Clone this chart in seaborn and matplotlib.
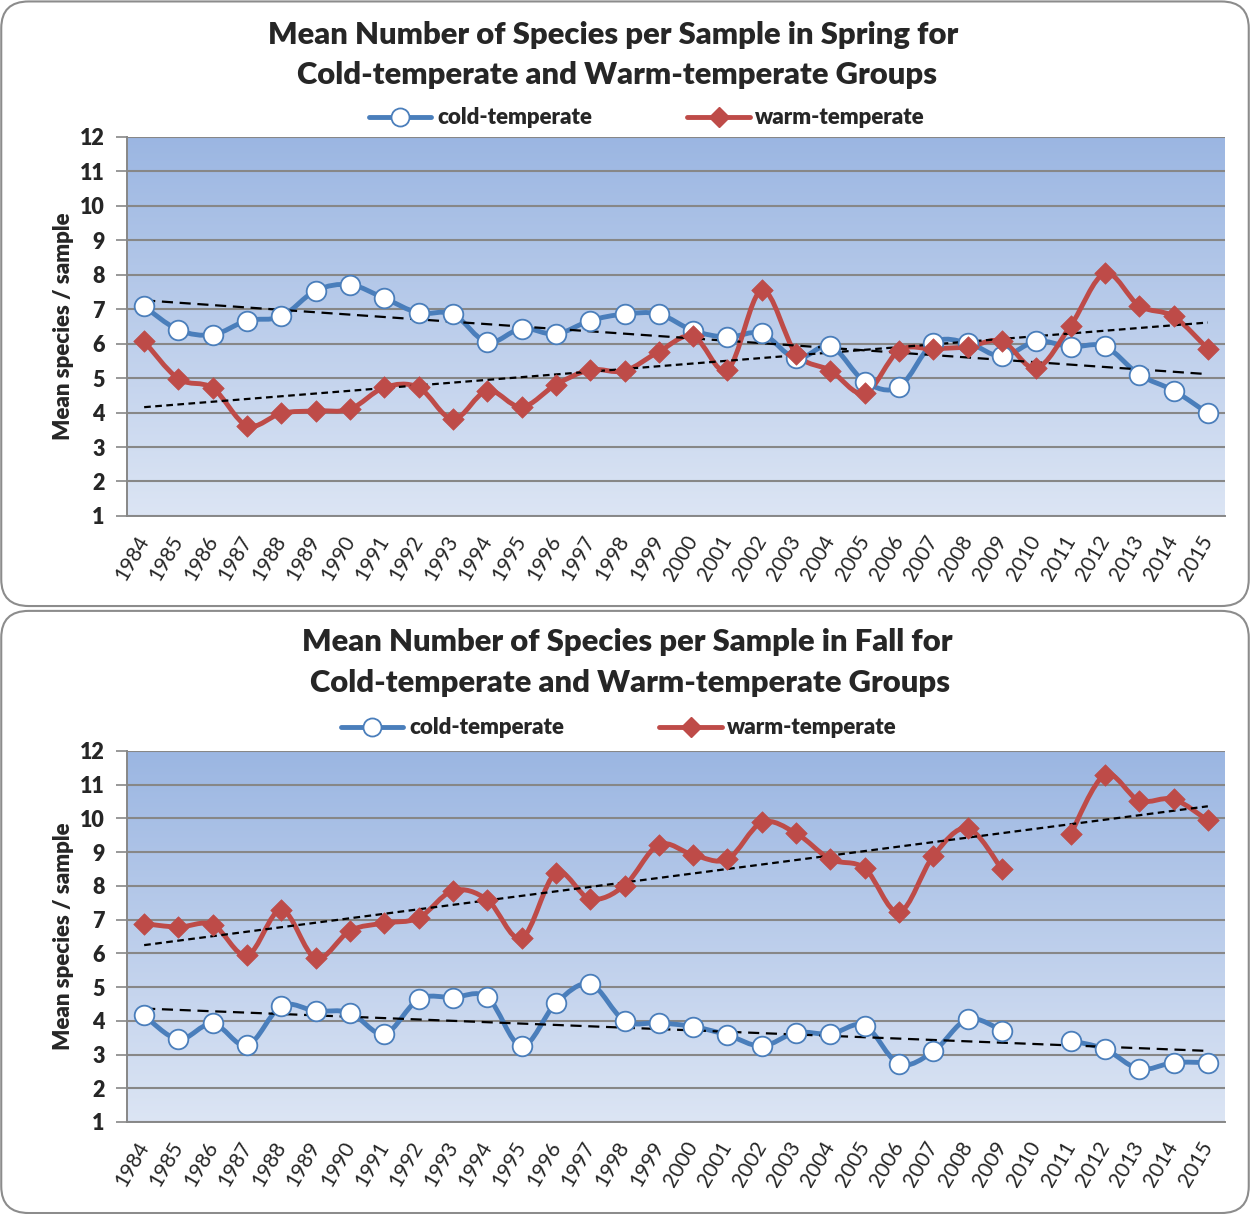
import numpy as np
import pandas as pd
import matplotlib
matplotlib.use("Agg")
import matplotlib.pyplot as plt
import seaborn as sns
from matplotlib.path import Path
from matplotlib.patches import PathPatch, FancyBboxPatch
from matplotlib.lines import Line2D
from matplotlib.colors import LinearSegmentedColormap

# ==============================
# DATA
# ==============================
years = list(range(1984, 2016))
year_labels = [str(y) for y in years]

spring_cold = [7.08, 6.40, 6.26, 6.67, 6.79, 7.54, 7.71, 7.32, 6.89, 6.86,
               6.04, 6.44, 6.28, 6.67, 6.86, 6.86, 6.38, 6.19, 6.30, 5.57,
               5.93, 4.90, 4.74, 6.02, 6.02, 5.63, 6.07, 5.91, 5.92, 5.10,
               4.64, 3.98]
spring_warm = [6.07, 4.98, 4.71, 3.62, 3.98, 4.05, 4.10, 4.73, 4.73, 3.81,
               4.64, 4.16, 4.81, 5.24, 5.21, 5.77, 6.22, 5.24, 7.55, 5.71,
               5.22, 4.56, 5.80, 5.85, 5.91, 6.07, 5.29, 6.52, 8.04, 7.10,
               6.79, 5.85]
fall_cold = [4.16, 3.45, 3.92, 3.27, 4.44, 4.29, 4.24, 3.61, 4.64, 4.69,
             4.70, 3.25, 4.52, 5.09, 4.00, 3.94, 3.83, 3.58, 3.25, 3.65,
             3.61, 3.86, 2.72, 3.09, 4.05, 3.71, np.nan, 3.41, 3.16, 2.57,
             2.76, 2.76]
fall_warm = [6.88, 6.78, 6.85, 5.94, 7.29, 5.86, 6.67, 6.90, 7.05, 7.86,
             7.59, 6.45, 8.38, 7.61, 8.01, 9.22, 8.92, 8.79, 9.88, 9.56,
             8.79, 8.52, 7.22, 8.89, 9.71, 8.49, np.nan, 9.53, 11.29, 10.53,
             10.57, 9.94]

series_names = ["cold-temperate", "warm-temperate"]
y_ticks = list(range(1, 13))

BLUE = "#4a7ebb"
RED = "#be4b48"
GRID = "#878787"
FONT = ["Lato", "DejaVu Sans"]

sns.set_theme(style="white")
plt.rcParams["font.family"] = FONT


def smooth_path(x, y):
    # Excel-like smoothed line: cubic Bezier through the points, broken at gaps
    x = np.asarray(x, float)
    y = np.asarray(y, float)
    ok = ~np.isnan(y)
    runs, start = [], None
    for i, flag in enumerate(ok):
        if flag and start is None:
            start = i
        if not flag and start is not None:
            runs.append((start, i))
            start = None
    if start is not None:
        runs.append((start, len(y)))
    verts, codes = [], []
    for a, b in runs:
        px, py = x[a:b], y[a:b]
        n = len(px)
        verts.append((px[0], py[0]))
        codes.append(Path.MOVETO)
        for i in range(n - 1):
            i0 = max(i - 1, 0)
            i3 = min(i + 2, n - 1)
            c1 = (px[i] + (px[i + 1] - px[i0]) / 6, py[i] + (py[i + 1] - py[i0]) / 6)
            c2 = (px[i + 1] - (px[i3] - px[i]) / 6, py[i + 1] - (py[i3] - py[i]) / 6)
            verts += [c1, c2, (px[i + 1], py[i + 1])]
            codes += [Path.CURVE4] * 3
    return Path(verts, codes)


grad_cmap = LinearSegmentedColormap.from_list("bg", ["#dce5f4", "#9bb6e2"])


def draw_panel(ax, cold, warm):
    df = pd.DataFrame({"year": years, "cold": cold, "warm": warm})

    # gradient plot area
    ax.imshow(np.linspace(0, 1, 256).reshape(-1, 1), cmap=grad_cmap, origin="lower",
              extent=[0, 1, 0, 1], transform=ax.transAxes, aspect="auto", zorder=-2)

    for col, color in [("cold", BLUE), ("warm", RED)]:
        ax.add_patch(PathPatch(smooth_path(df["year"], df[col]), fill=False,
                               edgecolor=color, lw=3.5, zorder=3,
                               capstyle="round", joinstyle="round"))

    # linear trend lines
    sns.regplot(data=df, x="year", y="cold", ax=ax, scatter=False, ci=None,
                line_kws={"color": "black", "lw": 1.6, "ls": (0, (5, 3)), "zorder": 4})
    sns.regplot(data=df, x="year", y="warm", ax=ax, scatter=False, ci=None,
                line_kws={"color": "black", "lw": 1.6, "ls": (0, (3, 2)), "zorder": 4})

    sns.scatterplot(data=df, x="year", y="cold", ax=ax, marker="o", s=200,
                    color="white", edgecolor=BLUE, linewidth=1.3, zorder=5)
    sns.scatterplot(data=df, x="year", y="warm", ax=ax, marker="D", s=120,
                    color=RED, edgecolor=RED, linewidth=0.5, zorder=5)

    ax.set_xlim(years[0] - 0.5, years[-1] + 0.5)
    ax.set_ylim(y_ticks[0], y_ticks[-1])
    ax.set_yticks(y_ticks)
    ax.set_yticklabels([str(t) for t in y_ticks], fontweight="heavy", fontsize=15.5)
    ax.set_xticks(years)
    ax.set_xticklabels(year_labels, rotation=60, ha="right", va="center",
                       rotation_mode="anchor", fontsize=15)
    ax.set_xticks([y - 0.5 for y in years] + [years[-1] + 0.5], minor=True)
    ax.tick_params(axis="x", which="major", length=0, pad=15)
    ax.tick_params(axis="x", which="minor", length=7, width=1.2, color=GRID, direction="out")
    ax.tick_params(axis="y", length=8, width=1.2, color=GRID, direction="out", left=True, pad=8)
    ax.grid(axis="y", color=GRID, lw=1.5)
    ax.grid(axis="x", visible=False)
    ax.set_axisbelow(True)
    for side in ["top", "right"]:
        ax.spines[side].set_visible(False)
    for side in ["left", "bottom"]:
        ax.spines[side].set_color(GRID)
        ax.spines[side].set_linewidth(1.4)
    ax.set_xlabel("")
    ax.set_ylabel("Mean species / sample", fontsize=16, fontweight="heavy", labelpad=4)


fig = plt.figure(figsize=(12.5, 12.14), dpi=100)

# panel frames
for y0, h in [(0.5008, 0.498), (0.0008, 0.496)]:
    fig.patches.append(FancyBboxPatch((0.001, y0), 0.998, h, transform=fig.transFigure,
                                      boxstyle="round,pad=0,rounding_size=0.022",
                                      facecolor="white", edgecolor="#8c8c8c", lw=1.5,
                                      zorder=-5))

ax1 = fig.add_axes([0.1016, 0.5750, 0.8784, 0.3122])
ax2 = fig.add_axes([0.1016, 0.0758, 0.8784, 0.3056])

draw_panel(ax1, spring_cold, spring_warm)
draw_panel(ax2, fall_cold, fall_warm)

title_kw = dict(ha="center", va="center", fontsize=22.3, fontweight="heavy")
fig.text(613 / 1250, 1 - 35 / 1214, "Mean Number of Species per Sample in Spring for", **title_kw)
fig.text(617 / 1250, 1 - 75 / 1214, "Cold-temperate and Warm-temperate Groups", **title_kw)
fig.text(627 / 1250, 1 - 642 / 1214, "Mean Number of Species per Sample in Fall for", **title_kw)
fig.text(630 / 1250, 1 - 683 / 1214, "Cold-temperate and Warm-temperate Groups", **title_kw)

handles = [
    Line2D([], [], color=BLUE, lw=3.5, marker="o", markersize=13,
           markerfacecolor="white", markeredgecolor=BLUE, markeredgewidth=1.3),
    Line2D([], [], color=RED, lw=3.5, marker="D", markersize=10,
           markerfacecolor=RED, markeredgecolor=RED),
]
for cx, cy in [(647, 118), (619, 728)]:
    fig.legend(handles, series_names, loc="center", bbox_to_anchor=(cx / 1250, 1 - cy / 1214),
               ncol=2, frameon=False, handlelength=2.8, handletextpad=0.25,
               columnspacing=4.3, prop={"weight": "heavy", "size": 16})

fig.savefig("out.png", dpi=100)
